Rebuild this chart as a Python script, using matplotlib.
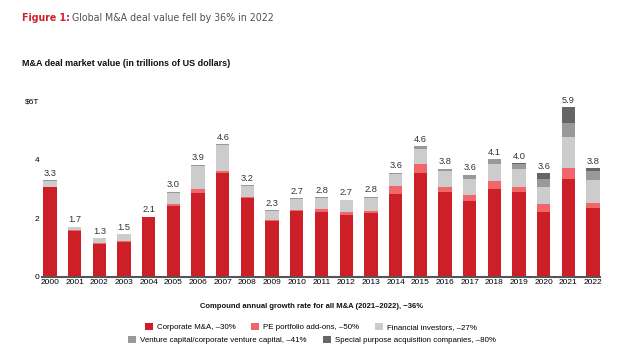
import matplotlib
matplotlib.use('Agg')
import matplotlib.pyplot as plt
from matplotlib import font_manager
import numpy as np

years = [str(y) for y in range(2000, 2023)]
totals = ['3.3', '1.7', '1.3', '1.5', '2.1', '3.0', '3.9', '4.6', '3.2', '2.3', '2.7', '2.8',
          '2.7', '2.8', '3.6', '4.6', '3.8', '3.6', '4.1', '4.0', '3.6', '5.9', '3.8']

corporate = [3.05, 1.57, 1.11, 1.19, 2.02, 2.41, 2.87, 3.52, 2.70, 1.89, 2.23, 2.22,
             2.10, 2.18, 2.81, 3.52, 2.90, 2.58, 2.98, 2.90, 2.20, 3.33, 2.33]
pe_addons = [0.02, 0.03, 0.03, 0.02, 0.00, 0.07, 0.11, 0.07, 0.03, 0.06, 0.04, 0.08,
             0.12, 0.07, 0.28, 0.31, 0.15, 0.19, 0.27, 0.17, 0.28, 0.37, 0.19]
financial = [0.20, 0.10, 0.17, 0.23, 0.00, 0.39, 0.79, 0.90, 0.36, 0.29, 0.38, 0.40,
             0.39, 0.45, 0.41, 0.52, 0.56, 0.56, 0.58, 0.61, 0.59, 1.05, 0.79]
venture = [0.02, 0.01, 0.01, 0.01, 0.03, 0.03, 0.05, 0.03, 0.02, 0.03, 0.03, 0.02,
           0.02, 0.03, 0.05, 0.10, 0.07, 0.15, 0.17, 0.15, 0.26, 0.50, 0.30]
spac = [0.00, 0.00, 0.00, 0.00, 0.00, 0.00, 0.00, 0.00, 0.00, 0.00, 0.00, 0.00,
        0.00, 0.00, 0.00, 0.00, 0.00, 0.00, 0.00, 0.05, 0.19, 0.52, 0.09]

series = [
    (corporate, '#CC1F27', 'Corporate M&A, \u201330%'),
    (pe_addons, '#F0666A', 'PE portfolio add-ons, \u201350%'),
    (financial, '#CCCCCC', 'Financial investors, \u201327%'),
    (venture, '#999999', 'Venture capital/corporate venture capital, \u201341%'),
    (spac, '#666666', 'Special purpose acquisition companies, \u201380%'),
]

plt.rcParams['font.family'] = ['Liberation Sans', 'DejaVu Sans']

# condensed face for the title if the system has one
names = {f.name for f in font_manager.fontManager.ttflist}
cond = [f for f in font_manager.fontManager.ttflist
        if f.name == 'DejaVu Sans' and f.stretch == 'condensed']
if 'Liberation Sans Narrow' in names:
    title_font = dict(family='Liberation Sans Narrow', size=9.5)
elif cond:
    title_font = dict(family='DejaVu Sans', stretch='condensed', size=7.6)
else:
    title_font = dict(family='Roboto', size=7.6)

fig = plt.figure(figsize=(6.41, 3.51), dpi=100)
ax = fig.add_axes([42 / 641, 1 - 276.7 / 351, 558 / 641, 6.2 * 29.33 / 351])

x = np.arange(len(years))
bottom = np.zeros(len(years))
handles = []
for vals, color, label in series:
    b = ax.bar(x, vals, 0.54, bottom=bottom, color=color, label=label, linewidth=0)
    handles.append(b)
    bottom += np.array(vals)

for i, t in enumerate(totals):
    ax.text(x[i], bottom[i] + 0.08, t, ha='center', va='bottom', fontsize=6.7, color='#333333')

ax.set_xlim(-0.32, 22.28)
ax.set_ylim(0, 6.2)
ax.set_xticks(x)
ax.set_xticklabels(years, fontsize=6)
ax.set_yticks([0, 2, 4, 6])
ax.set_yticklabels(['0', '2', '4', '$6T'], fontsize=6)
ax.tick_params(length=0, pad=2)
for s in ['top', 'right', 'left']:
    ax.spines[s].set_visible(False)
ax.spines['bottom'].set_color('#555555')
ax.spines['bottom'].set_linewidth(1.5)

t1 = fig.text(22 / 641, 1 - 18 / 351, 'Figure 1:', color='#D0202A', fontweight='bold',
              va='center', **title_font)
fig.canvas.draw()
ext = t1.get_window_extent()
fig.text((ext.x1 + 2) / 641, 1 - 18 / 351, 'Global M&A deal value fell by 36% in 2022',
         color='#505050', va='center', **title_font)

fig.text(22 / 641, 1 - 63 / 351, 'M&A deal market value (in trillions of US dollars)',
         fontsize=6.5, fontweight='bold', va='center', color='#111111')
fig.text(312 / 641, 1 - 306 / 351, 'Compound annual growth rate for all M&A (2021\u20132022), \u221236%',
         fontsize=5.5, fontweight='bold', ha='center', va='center', color='#111111')

fig.legend(handles=handles[:3], loc='center left', bbox_to_anchor=(141 / 641, 1 - 327 / 351),
           ncol=3, frameon=False, fontsize=5.7, handlelength=1.0, handleheight=1.0,
           handletextpad=0.5, columnspacing=2.0, borderpad=0)
fig.legend(handles=handles[3:], loc='center left', bbox_to_anchor=(124 / 641, 1 - 340 / 351),
           ncol=2, frameon=False, fontsize=5.7, handlelength=1.0, handleheight=1.0,
           handletextpad=0.5, columnspacing=2.1, borderpad=0)

fig.savefig('out.png', dpi=100, facecolor='white')
